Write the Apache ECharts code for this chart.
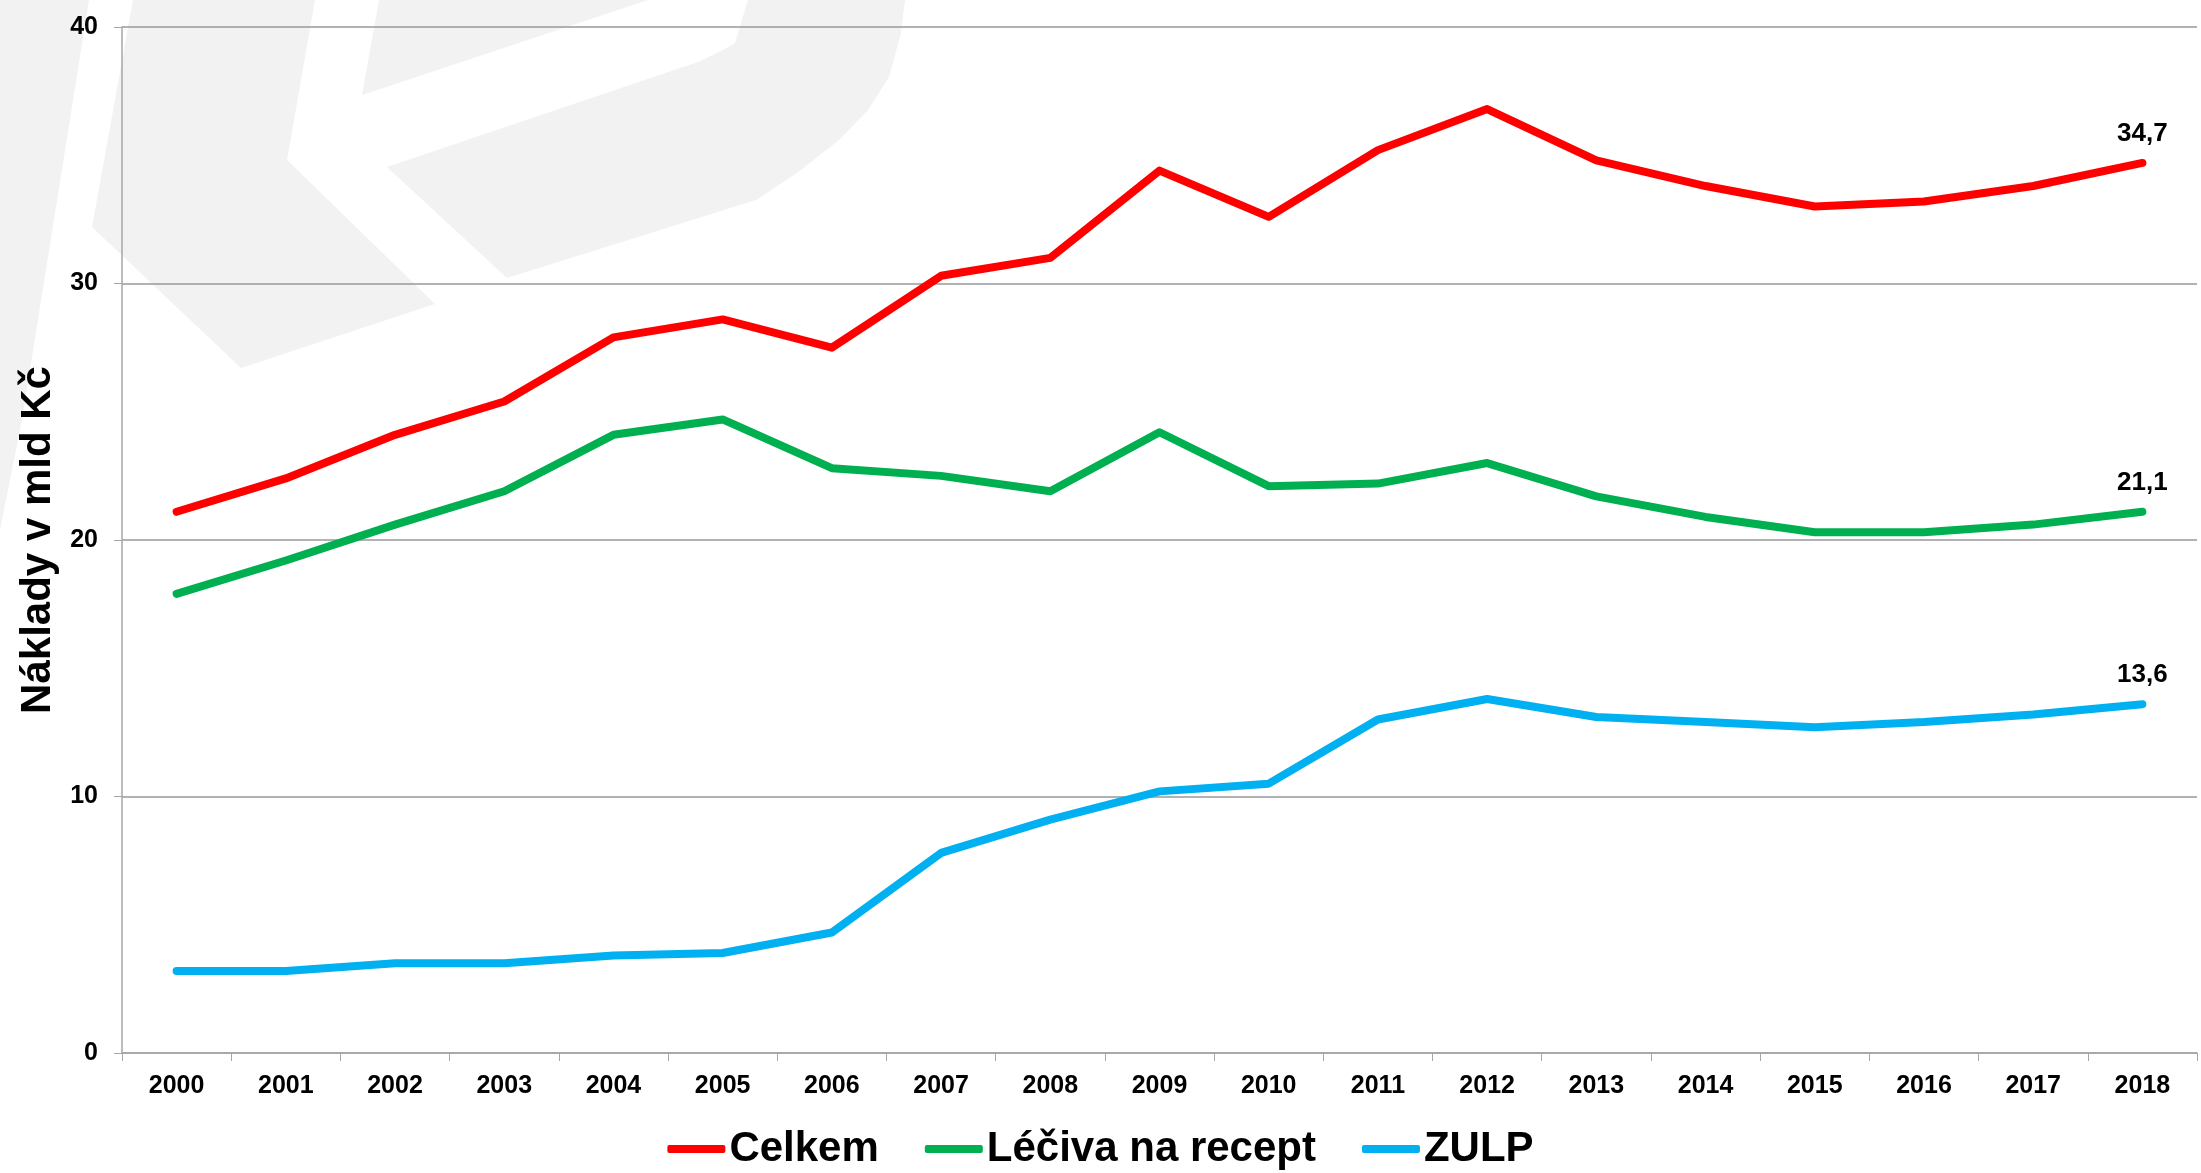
<!DOCTYPE html>
<html>
<head>
<meta charset="utf-8">
<script src="https://cdn.jsdelivr.net/npm/echarts@6/dist/echarts.min.js"></script>
<style>
html,body{margin:0;padding:0;background:#fff;}
#chart{width:2201px;height:1173px;}
</style>
</head>
<body>
<div id="chart"></div>
<script>
const years = ['2000','2001','2002','2003','2004','2005','2006','2007','2008','2009','2010','2011','2012','2013','2014','2015','2016','2017','2018'];
const celkem = [21.1,22.4,24.1,25.4,27.9,28.6,27.5,30.3,31.0,34.4,32.6,35.2,36.8,34.8,33.8,33.0,33.2,33.8,34.7];
const leciva = [17.9,19.2,20.6,21.9,24.1,24.7,22.8,22.5,21.9,24.2,22.1,22.2,23.0,21.7,20.9,20.3,20.3,20.6,21.1];
const zulp = [3.2,3.2,3.5,3.5,3.8,3.9,4.7,7.8,9.1,10.2,10.5,13.0,13.8,13.1,12.9,12.7,12.9,13.2,13.6];
const seriesNames = ['Celkem','Léčiva na recept','ZULP'];
const colors = ['#FF0000','#00B050','#00B0F0'];
const yTitle = 'Náklady v mld Kč';

const FONT = '"Liberation Sans", Arial, sans-serif';

function withLastLabel(arr){
  return arr.map((v,i)=> i===arr.length-1 ? {value:v,label:{show:true}} : v);
}

function mkSeries(name, data, color){
  return {
    name: name,
    type: 'line',
    data: withLastLabel(data),
    symbol: 'circle',
    symbolSize: 0,
    showSymbol: true,
    lineStyle: {color: color, width: 8, cap: 'round', join: 'round'},
    itemStyle: {color: color},
    label: {
      show: false,
      position: 'top',
      distance: 16,
      color: '#000',
      fontFamily: FONT,
      fontWeight: 'bold',
      fontSize: 26,
      formatter: p => String(p.value).replace('.', ',')
    },
    emphasis: {disabled: true},
    z: 3
  };
}

const wm = '#f2f2f2';
const chart = echarts.init(document.getElementById('chart'), null, {renderer:'canvas'});
chart.setOption({
  animation: false,
  backgroundColor: '#fff',
  graphic: {
    elements: [
      {type:'polygon', z:-1, shape:{points:[[0,0],[89,0],[22,420],[0,530]]}, style:{fill:wm}},
      {type:'polygon', z:-1, shape:{points:[[133,0],[315,0],[287,160],[435,304],[241,368],[92,227]]}, style:{fill:wm}},
      {type:'polygon', z:-1, shape:{points:[[379,0],[362,95],[648,0]]}, style:{fill:wm}},
      {type:'polygon', z:-1, shape:{points:[[387,167],[698,62],[723,50],[735,43],[748,0],[905,0],[901,33],[889,77],[868,110],[839,140],[797,173],[756,200],[507,278]]}, style:{fill:wm}}
    ]
  },
  grid: {left: 122, right: 4, top: 27, bottom: 120, containLabel: false},
  legend: {
    data: seriesNames,
    top: 1123,
    left: 'center',
    itemWidth: 58,
    itemHeight: 8,
    itemGap: 46,
    icon: 'roundRect',
    textStyle: {fontFamily: FONT, fontWeight: 'bold', fontSize: 42, color: '#000', padding:[0,0,0,-1]}
  },
  xAxis: {
    type: 'category',
    data: years,
    boundaryGap: true,
    axisLine: {show: true, lineStyle: {color: '#a6a6a6', width: 1.5}},
    axisTick: {show: true, length: 8, lineStyle: {color: '#a6a6a6'}},
    axisLabel: {fontFamily: FONT, fontWeight: 'bold', fontSize: 25, color: '#000', margin: 21},
    splitLine: {show: false}
  },
  yAxis: {
    type: 'value',
    min: 0, max: 40, interval: 10,
    name: yTitle,
    nameLocation: 'middle',
    nameRotate: 90,
    nameGap: 61,
    nameTextStyle: {fontFamily: FONT, fontWeight: 'bold', fontSize: 42, color: '#000'},
    axisLine: {show: true, lineStyle: {color: '#a6a6a6', width: 1.5}},
    axisTick: {show: true, length: 8, lineStyle: {color: '#a6a6a6'}},
    axisLabel: {fontFamily: FONT, fontWeight: 'bold', fontSize: 25, color: '#000', margin: 24},
    splitLine: {show: true, lineStyle: {color: '#999', width: 1.5}}
  },
  series: [
    mkSeries(seriesNames[0], celkem, colors[0]),
    mkSeries(seriesNames[1], leciva, colors[1]),
    mkSeries(seriesNames[2], zulp, colors[2])
  ]
});
</script>
</body>
</html>
